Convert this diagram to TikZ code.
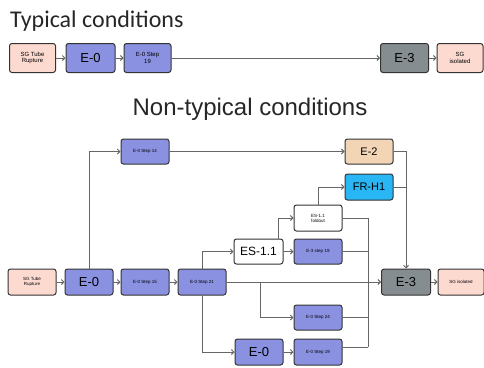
\documentclass[tikz,border=0pt]{standalone}
\usepackage{fontspec}
\setmainfont{Liberation Sans}
\newfontfamily\titlefont{Carlito}
\usetikzlibrary{arrows.meta}
\definecolor{sgpink}{RGB}{253,218,208}
\definecolor{eblue}{RGB}{138,145,224}
\definecolor{egrey}{RGB}{134,141,145}
\definecolor{etan}{RGB}{242,213,181}
\definecolor{ecyan}{RGB}{40,182,245}
\begin{document}
\begin{tikzpicture}[x=1pt, y=-1pt,
	box/.style={draw=black!80, line width=1pt, rounded corners=2.5pt, minimum width=48pt, minimum height=26pt, inner sep=1pt, align=center},
	big/.style={box, font=\fontsize{13}{14}\selectfont},
	small/.style={box, font=\fontsize{6}{6.5}\selectfont},
	tiny/.style={box, font=\fontsize{4.5}{5}\selectfont},
	conn/.style={draw=black!60, line width=0.9pt, -{Straight Barb[length=2.5pt,width=5pt]}},
	line/.style={draw=black!60, line width=0.9pt}]
	\useasboundingbox (0,0) rectangle (484,367);
	
	% ---------- 1. Typical conditions ----------
	\node[anchor=base west, inner sep=0pt, font=\titlefont\fontsize{24}{26}\selectfont, text=black!85] (ttl1) at (10,27) {Typical conditions};
	\node[small, fill=sgpink, minimum width=46pt, minimum height=29pt] (tsg) at (32.5,58) {SG Tube\\Rupture};
	\node[big, fill=eblue, minimum width=49pt, minimum height=29pt] (te0) at (90.5,58) {E-0};
	\node[small, fill=eblue, minimum width=47pt, minimum height=29pt] (tstep) at (147.5,58) {E-0 Step\\19};
	\node[big, fill=egrey, minimum width=48pt, minimum height=29pt] (te3) at (404.5,58) {E-3};
	\node[small, fill=sgpink, minimum width=46pt, minimum height=29pt] (tiso) at (460,58) {SG\\isolated};
	
	\draw[conn] (tsg) -- (te0);
	\draw[conn] (te0) -- (tstep);
	\draw[conn] (tstep) -- (te3);
	\draw[conn] (te3) -- (tiso);
	
	% ---------- 2. Non-typical conditions ----------
	\node[anchor=base, inner sep=0pt, font=\fontsize{24}{26}\selectfont, text=black!85] (ttl2) at (250,115) {Non-typical conditions};
	
	% main row
	\node[tiny, fill=sgpink] (bsg) at (32,282) {SG Tube\\Rupture};
	\node[big, fill=eblue] (be0) at (89,282) {E-0};
	\node[tiny, fill=eblue] (s15) at (145,282) {E-0 Step 15};
	\node[tiny, fill=eblue] (s21) at (202,282) {E-0 Step 21};
	\node[big, fill=egrey, minimum width=49pt] (be3) at (406,282) {E-3};
	\node[tiny, fill=sgpink, minimum width=46pt] (biso) at (461,282) {SG isolated};
	
	% upper branches
	\node[tiny, fill=eblue, minimum height=25pt] (s14) at (145,151.5) {E-0 Step 14};
	\node[big, fill=etan, minimum height=25pt, font=\fontsize{11}{12}\selectfont] (e2) at (369,151.5) {E-2};
	\node[big, fill=ecyan, font=\fontsize{11}{12}\selectfont] (frh1) at (369,187) {FR-H1};
	\node[tiny, fill=white] (fold) at (318,218) {ES-1.1\\foldout};
	\node[big, fill=white, minimum width=49pt, minimum height=25pt, font=\fontsize{12}{13}\selectfont] (es11) at (258.5,251.5) {ES-1.1};
	\node[tiny, fill=eblue, minimum height=25pt] (e3s19) at (318,251.5) {E-3 step 19};
	
	% lower branches
	\node[tiny, fill=eblue, minimum height=25pt] (s24) at (318,317.5) {E-0 Step 24};
	\node[big, fill=eblue] (be0b) at (259,352) {E-0};
	\node[tiny, fill=eblue] (bs19) at (318,352) {E-0 Step 19};
	
	% 3. connectors
	\coordinate (bus) at (368,347);
	\coordinate (split) at (260,282);
	\draw[conn] (bsg) -- (be0);
	\draw[conn] (be0) -- (s15);
	\draw[conn] (s15) -- (s21);
	\draw[conn] (s21) -- (be3);
	\draw[conn] (be3) -- (biso);
	\draw[conn] (be0.north) |- (s14.west);
	\draw[conn] (s14.east) -- (e2.west);
	\draw[conn] (e2.east) -| (be3.north);
	\draw[line] (frh1.east) -- (frh1.east -| be3.north);
	\draw[conn] (s21.north) |- (es11.west);
	\draw[conn] ([xshift=20pt]es11.north) |- (fold.west);
	\draw[conn] (fold.north) |- (frh1.west);
	\draw[conn] (es11) -- (e3s19);
	\draw[line] (fold.east) -| (bus);
	\draw[line] (e3s19.east) -- (e3s19.east -| bus);
	\draw[conn] (split) |- (s24.west);
	\draw[line] (s24.east) -- (s24.east -| bus);
	\draw[conn] (s21.south) |- (be0b.west);
	\draw[conn] (be0b) -- (bs19);
	\draw[line] ([yshift=5pt]bs19.east) -- (bus);
\end{tikzpicture}
\end{document}
